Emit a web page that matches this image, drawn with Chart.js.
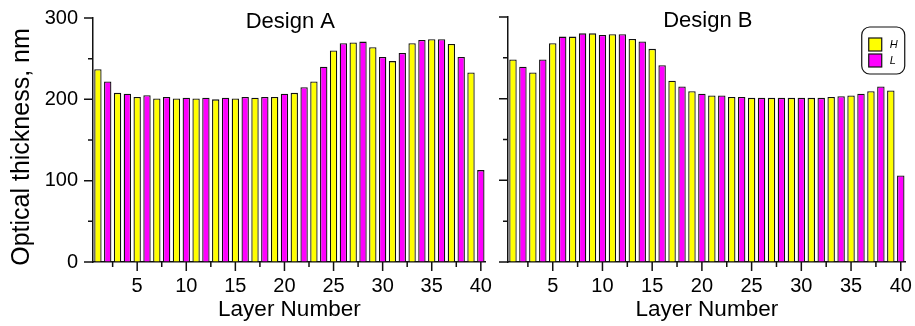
<!DOCTYPE html>
<html>
<head>
<meta charset="utf-8">
<script src="https://cdn.jsdelivr.net/npm/chart.js@4.4.0/dist/chart.umd.min.js"></script>
<style>
  html, body { margin: 0; padding: 0; background: #fff; }
  #wrap { position: relative; width: 915px; height: 326px; }
  canvas { position: absolute; top: 0; }
  #chartA { left: 0; }
  #chartB { left: 495px; }
</style>
</head>
<body>
<div id="wrap">
  <canvas id="chartA" width="495" height="326"></canvas>
  <canvas id="chartB" width="420" height="326"></canvas>
</div>
<script>
// layer numbers and optical thickness (nm)
const layers = [1, 2, 3, 4, 5, 6, 7, 8, 9, 10, 11, 12, 13, 14, 15, 16, 17, 18, 19, 20,
                21, 22, 23, 24, 25, 26, 27, 28, 29, 30, 31, 32, 33, 34, 35, 36, 37, 38, 39, 40];
const designA = [237, 222, 208, 207, 203, 205, 201, 203, 201, 202, 201, 202, 200, 202, 201, 203, 202, 203, 203, 207,
                 208, 215, 222, 240, 260, 269, 270, 271, 264, 252, 247, 257, 269, 273, 274, 274, 268, 252, 233, 113];
const designB = [248, 239, 232, 248, 268, 276, 276, 280, 280, 278, 279, 279, 273, 270, 261, 241, 222, 215, 209, 206,
                 204, 204, 202, 202, 201, 201, 201, 201, 201, 201, 201, 201, 202, 203, 204, 206, 209, 215, 210, 106];
const xTicks = [2.5, 5, 7.5, 10, 12.5, 15, 17.5, 20, 22.5, 25, 27.5, 30, 32.5, 35, 37.5, 40];
const yTicks = [0, 50, 100, 150, 200, 250, 300];
const seriesNames = ["H", "L"];
const seriesColors = ["#ffff00", "#ff00ff"];

Chart.defaults.font.family = '"Liberation Sans", Arial, Helvetica, sans-serif';
Chart.defaults.color = "#000";

const FONT = '"Liberation Sans", Arial, Helvetica, sans-serif';
const INK = "#111";

// odd layers are H, even layers are L
function points(values, parity) {
  return layers.filter(n => n % 2 === parity).map(n => ({ x: n, y: values[n - 1] }));
}

function datasets(values) {
  return seriesNames.map((name, i) => ({
    label: name,
    data: points(values, i === 0 ? 1 : 0),
    backgroundColor: seriesColors[i],
    borderColor: INK,
    borderWidth: 1.3,
    grouped: false,
    barPercentage: 0.75,
    categoryPercentage: 1,
  }));
}

// major / minor tick marks drawn outward
const tickMarks = {
  id: "tickMarks",
  afterDraw(chart) {
    const { ctx, chartArea, scales } = chart;
    ctx.save();
    ctx.strokeStyle = INK;
    ctx.lineWidth = 1.5;
    ctx.beginPath();
    scales.y.ticks.forEach(t => {
      const y = scales.y.getPixelForValue(t.value);
      const len = t.value % 100 === 0 ? 9 : 5;
      ctx.moveTo(chartArea.left - len, y);
      ctx.lineTo(chartArea.left, y);
    });
    scales.x.ticks.forEach(t => {
      const x = scales.x.getPixelForValue(t.value);
      const len = t.value % 5 === 0 ? 9 : 5;
      ctx.moveTo(x, chartArea.bottom);
      ctx.lineTo(x, chartArea.bottom + len);
    });
    ctx.stroke();
    ctx.restore();
  }
};

const panelTitle = {
  id: "panelTitle",
  afterDraw(chart, args, opts) {
    const { ctx, chartArea } = chart;
    ctx.save();
    ctx.font = "22px " + FONT;
    ctx.fillStyle = "#000";
    ctx.textAlign = "center";
    ctx.textBaseline = "alphabetic";
    ctx.fillText(opts.text, (chartArea.left + chartArea.right) / 2 + 1, chartArea.top + 9.5);
    ctx.restore();
  }
};

const yTitle = {
  id: "yTitle",
  afterDraw(chart, args, opts) {
    if (!opts.text) return;
    const { ctx } = chart;
    ctx.save();
    ctx.translate(22, 147);
    ctx.rotate(-Math.PI / 2);
    ctx.font = "25px " + FONT;
    ctx.fillStyle = "#000";
    ctx.textAlign = "center";
    ctx.textBaseline = "middle";
    ctx.fillText(opts.text, 0, 0);
    ctx.restore();
  }
};

const boxLegend = {
  id: "boxLegend",
  afterDraw(chart, args, opts) {
    if (!opts.show) return;
    const { ctx, chartArea } = chart;
    const w = 43, h = 47;
    const bx = chartArea.right - 1 - w, by = chartArea.top + 10;
    ctx.save();
    ctx.fillStyle = "#fff";
    ctx.strokeStyle = INK;
    ctx.lineWidth = 1.2;
    ctx.beginPath();
    ctx.roundRect(bx, by, w, h, 8);
    ctx.fill();
    ctx.stroke();
    chart.data.datasets.forEach((ds, i) => {
      const sy = by + 11 + i * 16;
      ctx.fillStyle = ds.backgroundColor;
      ctx.fillRect(bx + 7, sy, 13, 13);
      ctx.strokeRect(bx + 7, sy, 13, 13);
      ctx.fillStyle = "#000";
      ctx.font = "italic 11px " + FONT;
      ctx.textAlign = "left";
      ctx.textBaseline = "middle";
      ctx.fillText(ds.label, bx + 28, sy + 7);
    });
    ctx.restore();
  }
};

function makeConfig(values, title, showYLabels, axisWidth, padRight, yText, showLegend) {
  return {
    type: "bar",
    data: { datasets: datasets(values) },
    plugins: [tickMarks, panelTitle, yTitle, boxLegend],
    options: {
      responsive: false,
      animation: false,
      layout: { padding: { top: 17, right: padRight, left: 0, bottom: 0 } },
      plugins: {
        legend: { display: false },
        tooltip: { enabled: false },
        panelTitle: { text: title },
        yTitle: { text: yText },
        boxLegend: { show: showLegend },
      },
      scales: {
        x: {
          type: "linear",
          offset: false,
          min: 0.5,
          max: 40.5,
          afterBuildTicks: s => { s.ticks = xTicks.map(v => ({ value: v })); },
          afterFit: s => { s.height = 64; },
          grid: { offset: false, drawOnChartArea: false, drawTicks: true, tickLength: 9, color: "rgba(0,0,0,0)" },
          border: { display: true, color: INK, width: 1.5 },
          ticks: {
            autoSkip: false,
            maxRotation: 0,
            padding: 3,
            font: { size: 20 },
            callback: v => (v % 5 === 0 ? String(v) : ""),
          },
          title: { display: true, text: "Layer Number", font: { size: 22.5 }, padding: { top: 0, bottom: 3 } },
        },
        y: {
          min: 0,
          max: 300,
          afterBuildTicks: s => { s.ticks = yTicks.map(v => ({ value: v })); },
          afterFit: s => { s.width = axisWidth; },
          grid: { drawOnChartArea: false, drawTicks: true, tickLength: 9, color: "rgba(0,0,0,0)" },
          border: { display: true, color: INK, width: 1.5 },
          ticks: {
            display: showYLabels,
            padding: 6,
            font: { size: 20 },
            callback: v => (v % 100 === 0 ? String(v) : ""),
          },
        },
      },
    },
  };
}

new Chart(document.getElementById("chartA"),
  makeConfig(designA, "Design A", true, 93, 4, "Optical thickness, nm", false));
new Chart(document.getElementById("chartB"),
  makeConfig(designB, "Design B", false, 13, 9, "", true));
</script>
</body>
</html>
